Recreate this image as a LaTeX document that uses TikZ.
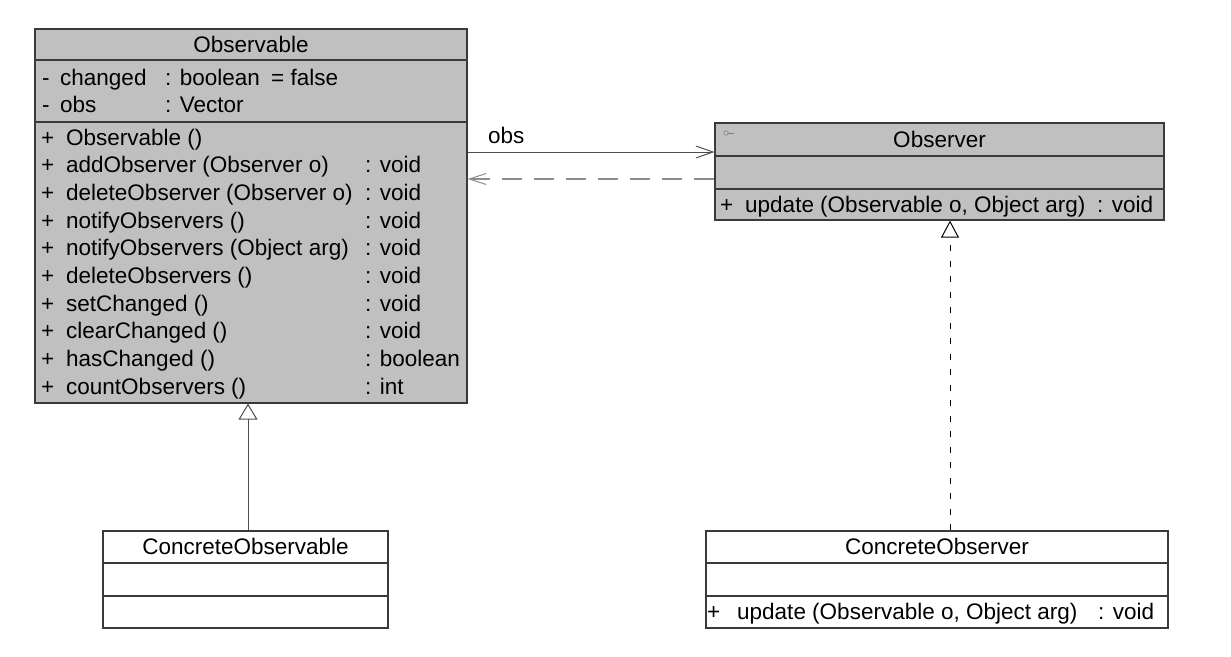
\documentclass[tikz,border=0pt]{standalone}
\usepackage{fontspec}
\setmainfont{Liberation Sans}
\usetikzlibrary{arrows.meta}
\definecolor{boxfill}{HTML}{C0C0C0}
\definecolor{boxline}{HTML}{3A3A3A}
\definecolor{dashgray}{HTML}{8C8C8C}
\tikzset{
  classbox/.style={draw=boxline, line width=1.2pt, inner sep=0pt, rectangle},
  graybox/.style={classbox, fill=boxfill},
  whitebox/.style={classbox, fill=white},
  sepline/.style={draw=boxline, line width=1.1pt},
  txt/.style={inner sep=0pt, anchor=base west, font=\fontsize{22.5}{26}\selectfont, text=black},
  ttl/.style={inner sep=0pt, anchor=base, font=\fontsize{22.5}{26}\selectfont, text=black},
  gen/.style={draw=boxline!90, line width=1pt, -{Triangle[open, length=16pt, width=19pt, fill=white, line width=1pt]}},
  realiz/.style={draw=black, line width=1pt, dash pattern=on 6pt off 9.5pt, -{Triangle[open, length=17pt, width=18pt, fill=white, line width=1pt]}},
  assoc/.style={draw=boxline!90, line width=1pt, -{Straight Barb[length=17pt, width=12pt, line width=1pt]}},
  depend/.style={draw=dashgray, line width=1.3pt, dash pattern=on 20pt off 12pt, -{Straight Barb[length=17pt, width=11pt, line width=1pt]}},
}
\begin{document}
\begin{tikzpicture}[x=1pt, y=-1pt]
\useasboundingbox (0,0) rectangle (1231,656);

% ---------- Observable ----------
\node[graybox, minimum width=432pt, minimum height=374pt] (observable) at (251,216) {};
\draw[sepline] (observable.west |- 0,60) -- (observable.east |- 0,60);
\draw[sepline] (observable.west |- 0,122) -- (observable.east |- 0,122);
\node[ttl] (obsTitle) at (251,52) {Observable};
\node[txt] (a1m) at (42,85) {-};
\node[txt] (a1n) at (60,85) {changed};
\node[txt] (a1t) at (165,85) {: boolean};
\node[txt] (a1v) at (271,85) {= false};
\node[txt] (a2m) at (42,112) {-};
\node[txt] (a2n) at (60,112) {obs};
\node[txt] (a2t) at (165,112) {: Vector};
\foreach \i/\nm/\ty in {0/Observable ()/,
  1/addObserver (Observer o)/: void,
  2/deleteObserver (Observer o)/: void,
  3/notifyObservers ()/: void,
  4/notifyObservers (Object arg)/: void,
  5/deleteObservers ()/: void,
  6/setChanged ()/: void,
  7/clearChanged ()/: void,
  8/hasChanged ()/: boolean,
  9/countObservers ()/: int}{
  \node[txt] (mp\i) at (41,145+27.67*\i) {+};
  \node[txt] (mn\i) at (66,145+27.67*\i) {\nm};
  \node[txt] (mt\i) at (365,145+27.67*\i) {\ty};
}

% ---------- Observer ----------
\node[graybox, minimum width=449pt, minimum height=97pt] (observer) at (939.5,171.5) {};
\draw[sepline] (observer.west |- 0,156) -- (observer.east |- 0,156);
\draw[sepline] (observer.west |- 0,189) -- (observer.east |- 0,189);
\draw[draw=gray, line width=0.6pt] (726,133) circle (2.2pt);
\draw[draw=gray, line width=0.6pt] (728.2,133) -- (734,133);
\node[ttl] (oTitle) at (939.5,147) {Observer};
\node[txt] (oP) at (720,212) {+};
\node[txt] (oN) at (745,212) {update (Observable o, Object arg)};
\node[txt] (oT) at (1097,212) {: void};

% ---------- ConcreteObservable ----------
\node[whitebox, minimum width=285pt, minimum height=97pt] (cobservable) at (245.5,579.5) {};
\draw[sepline] (cobservable.west |- 0,563) -- (cobservable.east |- 0,563);
\draw[sepline] (cobservable.west |- 0,596) -- (cobservable.east |- 0,596);
\node[ttl] (coTitle) at (245.5,554) {ConcreteObservable};

% ---------- ConcreteObserver ----------
\node[whitebox, minimum width=462pt, minimum height=97pt] (cobserver) at (937,579.5) {};
\draw[sepline] (cobserver.west |- 0,563) -- (cobserver.east |- 0,563);
\draw[sepline] (cobserver.west |- 0,596) -- (cobserver.east |- 0,596);
\node[ttl] (crTitle) at (937,554) {ConcreteObserver};
\node[txt] (cP) at (707,619) {+};
\node[txt] (cN) at (737,619) {update (Observable o, Object arg)};
\node[txt] (cT) at (1098,619) {: void};

% ---------- Connectors ----------
\draw[gen] (cobservable.north -| 248,0) -- (observable.south -| 248,0);
\draw[realiz] (cobserver.north -| 950,0) -- (observer.south -| 950,0);
\draw[assoc] (observable.east |- 0,152) -- (observer.west |- 0,152);
\node[txt] (obsLabel) at (488,143) {obs};
\draw[depend] (observer.west |- 0,179) -- (observable.east |- 0,179);
\end{tikzpicture}
\end{document}
